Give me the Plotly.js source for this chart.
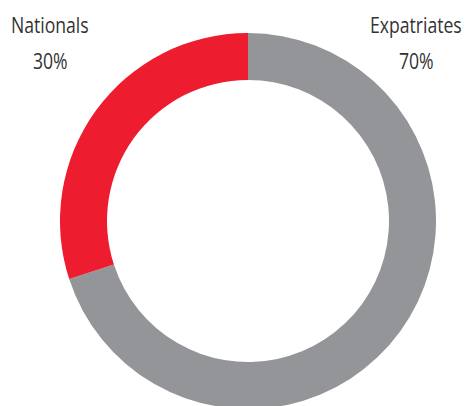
<!DOCTYPE html>
<html><head><meta charset="utf-8">
<script src="https://cdn.plot.ly/plotly-3.0.1.min.js"></script>
<style>html,body{margin:0;padding:0;overflow:hidden;background:#fff;}#chart{width:469px;height:440px;}
.annotation-text{transform-box:fill-box;transform-origin:center;transform:scaleX(0.8);}</style>
</head><body><div id="chart"></div>
<script>
const labels = ["Expatriates", "Nationals"];
const values = [70, 30];
const colors = ["#939598", "#ED1C2E"];

const W = 469, H = 440;
const cx = 248, cy = 221, R = 188;
const labelX = [416, 50];
const FONT = {family: "Open Sans", size: 22, color: "#333333"};

const annotations = [];
labels.forEach((l, i) => {
  annotations.push({x: labelX[i] / W, y: 1 - 25 / H, xref: "paper", yref: "paper", text: l, showarrow: false,
    xanchor: "center", yanchor: "middle", font: FONT});
  annotations.push({x: labelX[i] / W, y: 1 - 61 / H, xref: "paper", yref: "paper", text: values[i] + "%", showarrow: false,
    xanchor: "center", yanchor: "middle", font: FONT});
});

Plotly.newPlot("chart", [{
  type: "pie", labels: labels, values: values, hole: 0.75, sort: false, direction: "clockwise", rotation: 0,
  marker: {colors: colors, line: {width: 0}}, textinfo: "none", hoverinfo: "skip",
  domain: {x: [(cx - R) / W, (cx + R) / W], y: [(H - cy - R) / H, (H - cy + R) / H]}
}], {
  width: W, height: H, margin: {l: 0, r: 0, t: 0, b: 0}, showlegend: false,
  paper_bgcolor: "#fff", annotations: annotations
}, {staticPlot: true});
</script></body></html>
